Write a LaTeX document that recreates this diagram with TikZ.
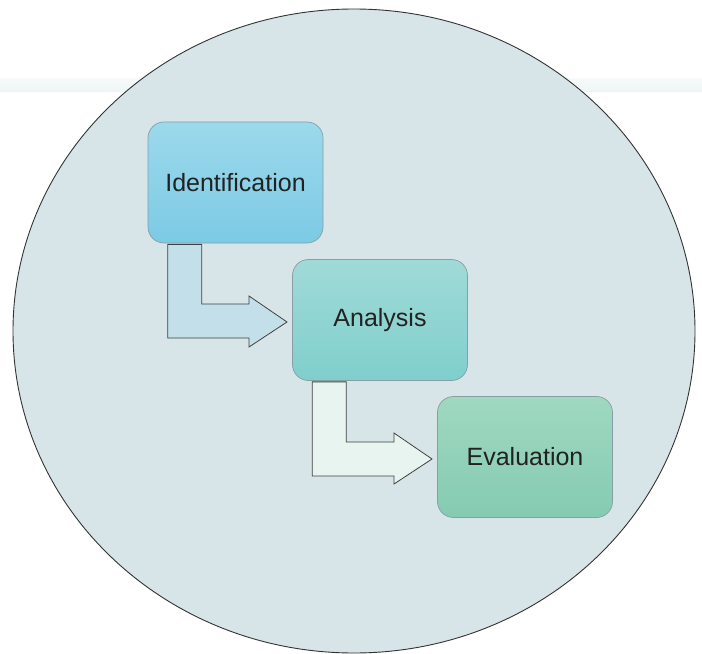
\documentclass[tikz,border=0pt]{standalone}
\usepackage{fontspec}
\setmainfont{Liberation Sans}
\usetikzlibrary{calc}
\definecolor{circfill}{HTML}{D7E5E9}
\definecolor{bandcol}{HTML}{EEF4F4}
\definecolor{idtop}{HTML}{9CD9EC}
\definecolor{idbot}{HTML}{7CCAE5}
\definecolor{antop}{HTML}{A0DAD8}
\definecolor{anbot}{HTML}{7FCFCC}
\definecolor{evtop}{HTML}{A0D8C0}
\definecolor{evbot}{HTML}{84CBB2}
\definecolor{arrowA}{HTML}{C3E0EA}
\definecolor{arrowB}{HTML}{E8F4EF}
\definecolor{boxline}{HTML}{869FA3}
\definecolor{txt}{HTML}{222222}
\tikzset{
  stagebox/.style={draw=boxline, line width=0.7bp, rounded corners=16bp,
    minimum width=175bp, minimum height=121bp, inner sep=0pt,
    text=txt, font=\fontsize{25bp}{28bp}\selectfont},
  bentarrow/.style={draw=black!75, line width=0.8bp, line join=miter}
}
\begin{document}
\begin{tikzpicture}[x=1bp,y=-1bp]
\useasboundingbox (0,0) rectangle (702,654);
% faint band
\fill[top color=bandcol!50, bottom color=bandcol] (0,79) rectangle (702,92);
% big ellipse
\draw[fill=circfill, draw=black!80, line width=0.9bp] (354,331) ellipse [x radius=341, y radius=322];
% boxes
\node[stagebox, top color=idtop, bottom color=idbot] (id) at (235.5,182.5) {Identification};
\node[stagebox, top color=antop, bottom color=anbot] (an) at (380,320) {Analysis};
\node[stagebox, top color=evtop, bottom color=evbot] (ev) at (525,457) {Evaluation};
% bent arrows
\draw[bentarrow, fill=arrowA]
  ($(id.south west)+(20,1)$) -- ($(id.south west)+(54,1)$) |- (249,304) -- (249,296)
  -- (287,322) -- (249,347) -- (249,338) -| cycle;
\draw[bentarrow, fill=arrowB]
  ($(an.south west)+(20,1)$) -- ($(an.south west)+(54,1)$) |- (394,442) -- (394,433)
  -- (432,459) -- (394,484) -- (394,476) -| cycle;
\end{tikzpicture}
\end{document}
